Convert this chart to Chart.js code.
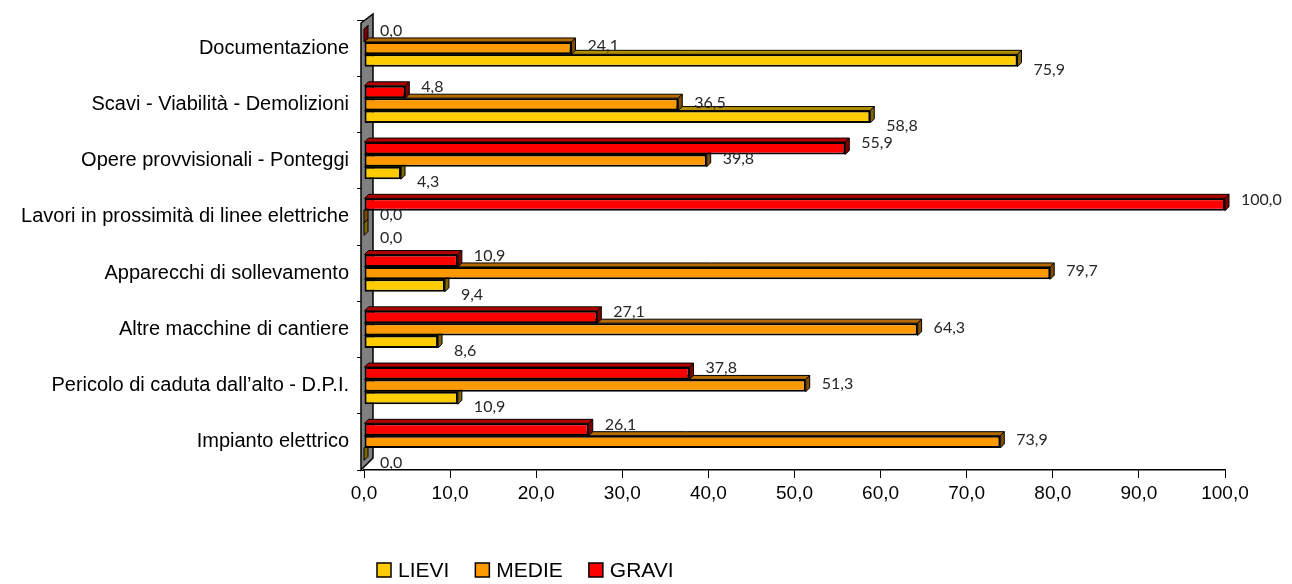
<!DOCTYPE html>
<html>
<head>
<meta charset="utf-8">
<script src="https://cdn.jsdelivr.net/npm/chart.js@4"></script>
<style>
  html, body { margin: 0; padding: 0; background: #fff; }
  canvas { display: block; }
</style>
</head>
<body>
<canvas id="chart" width="1292" height="584"></canvas>
<script>
// categories top to bottom, values in percent
const categories = [
  'Documentazione',
  'Scavi - Viabilità - Demolizioni',
  'Opere provvisionali - Ponteggi',
  'Lavori in prossimità di linee elettriche',
  'Apparecchi di sollevamento',
  'Altre macchine di cantiere',
  'Pericolo di caduta dall\u2019alto - D.P.I.',
  'Impianto elettrico'
];
const lievi = [75.9, 58.8, 4.3, 0.0, 9.4, 8.6, 10.9, 0.0];
const medie = [24.1, 36.5, 39.8, 0.0, 79.7, 64.3, 51.3, 73.9];
const gravi = [0.0, 4.8, 55.9, 100.0, 10.9, 27.1, 37.8, 26.1];

const fmt = v => v.toFixed(1).replace('.', ',');

// darker shades for the 3D faces
function shade(hex, f) {
  const n = parseInt(hex.slice(1), 16);
  const r = Math.round(((n >> 16) & 255) * f);
  const g = Math.round(((n >> 8) & 255) * f);
  const b = Math.round((n & 255) * f);
  return `rgb(${r},${g},${b})`;
}

const DEPTH = 4;

const bars3d = {
  id: 'bars3d',
  beforeDatasetsDraw(chart) {
    const ctx = chart.ctx;
    const area = chart.chartArea;
    // grey wall on the left
    ctx.save();
    ctx.fillStyle = '#808080';
    ctx.strokeStyle = '#000';
    ctx.lineWidth = 1.5;
    ctx.beginPath();
    ctx.moveTo(area.left - 3, area.bottom);
    ctx.lineTo(area.left - 3, area.top + 3);
    ctx.lineTo(area.left + 9, area.top - 6);
    ctx.lineTo(area.left + 9, area.bottom - 12);
    ctx.closePath();
    ctx.fill();
    ctx.stroke();

    // top and right faces, bottom dataset first
    ctx.lineWidth = 1;
    for (let i = chart.data.datasets.length - 1; i >= 0; i--) {
      const ds = chart.data.datasets[i];
      const meta = chart.getDatasetMeta(i);
      meta.data.forEach(el => {
        const top = el.y - el.height / 2;
        const bottom = el.y + el.height / 2;
        ctx.fillStyle = shade(ds.backgroundColor, 0.7);
        ctx.beginPath();
        ctx.moveTo(el.base, top);
        ctx.lineTo(el.x, top);
        ctx.lineTo(el.x + DEPTH, top - DEPTH);
        ctx.lineTo(el.base + DEPTH, top - DEPTH);
        ctx.closePath();
        ctx.fill();
        ctx.stroke();
        ctx.fillStyle = shade(ds.backgroundColor, 0.5);
        ctx.beginPath();
        ctx.moveTo(el.x, top);
        ctx.lineTo(el.x + DEPTH, top - DEPTH);
        ctx.lineTo(el.x + DEPTH, bottom - DEPTH);
        ctx.lineTo(el.x, bottom);
        ctx.closePath();
        ctx.fill();
        ctx.stroke();
      });
    }
    ctx.restore();
  },
  afterDatasetsDraw(chart) {
    const ctx = chart.ctx;
    const dy = [-5, -2, 9];
    ctx.save();
    ctx.font = '16px Lato';
    ctx.fillStyle = '#262626';
    ctx.textAlign = 'left';
    ctx.textBaseline = 'middle';
    chart.data.datasets.forEach((ds, i) => {
      chart.getDatasetMeta(i).data.forEach((el, j) => {
        ctx.fillText(fmt(ds.data[j]), el.x + 16, el.y + dy[i]);
      });
    });
    ctx.restore();
  },
  afterDraw(chart) {
    // legend: LIEVI, MEDIE, GRAVI
    const ctx = chart.ctx;
    const items = chart.data.datasets.slice().reverse();
    ctx.save();
    ctx.font = '21px "Liberation Sans", Arial, sans-serif';
    ctx.textBaseline = 'middle';
    ctx.textAlign = 'left';
    let x = chart.chartArea.left + 13;
    const y = 570;
    items.forEach(ds => {
      ctx.fillStyle = ds.backgroundColor;
      ctx.fillRect(x, y - 7, 14, 14);
      ctx.strokeStyle = '#000';
      ctx.lineWidth = 1.5;
      ctx.strokeRect(x, y - 7, 14, 14);
      ctx.fillStyle = '#000';
      ctx.fillText(ds.label, x + 21, y + 1);
      x += 21 + ctx.measureText(ds.label).width + 26;
    });
    ctx.restore();
  }
};

new Chart(document.getElementById('chart'), {
  type: 'bar',
  data: {
    labels: categories,
    datasets: [
      { label: 'GRAVI', data: gravi, backgroundColor: '#FF0000' },
      { label: 'MEDIE', data: medie, backgroundColor: '#FF9900' },
      { label: 'LIEVI', data: lievi, backgroundColor: '#FFCC00' }
    ]
  },
  options: {
    indexAxis: 'y',
    responsive: false,
    animation: false,
    devicePixelRatio: 1,
    layout: { padding: { top: 15, right: 67, bottom: 74, left: 0 } },
    datasets: {
      bar: {
        borderColor: '#000',
        borderWidth: 2,
        borderSkipped: false,
        categoryPercentage: 0.66,
        barPercentage: 1
      }
    },
    scales: {
      x: {
        min: 0,
        max: 100,
        ticks: {
          stepSize: 10,
          callback: v => fmt(v),
          color: '#000',
          font: { family: '"Liberation Sans", Arial, sans-serif', size: 19 },
          padding: 4
        },
        grid: { drawOnChartArea: false, color: '#000', tickLength: 8 },
        border: { display: true, color: '#000', width: 1.5 },
        afterFit: s => { s.height = 40; }
      },
      y: {
        ticks: {
          color: '#000',
          font: { family: '"Liberation Sans", Arial, sans-serif', size: 20 },
          padding: 8
        },
        grid: { drawOnChartArea: false, color: '#000', tickLength: 7, offset: true },
        border: { display: false },
        afterFit: s => { s.width = 364; }
      }
    },
    plugins: {
      legend: { display: false },
      tooltip: { enabled: false }
    }
  },
  plugins: [bars3d]
});
</script>
</body>
</html>
